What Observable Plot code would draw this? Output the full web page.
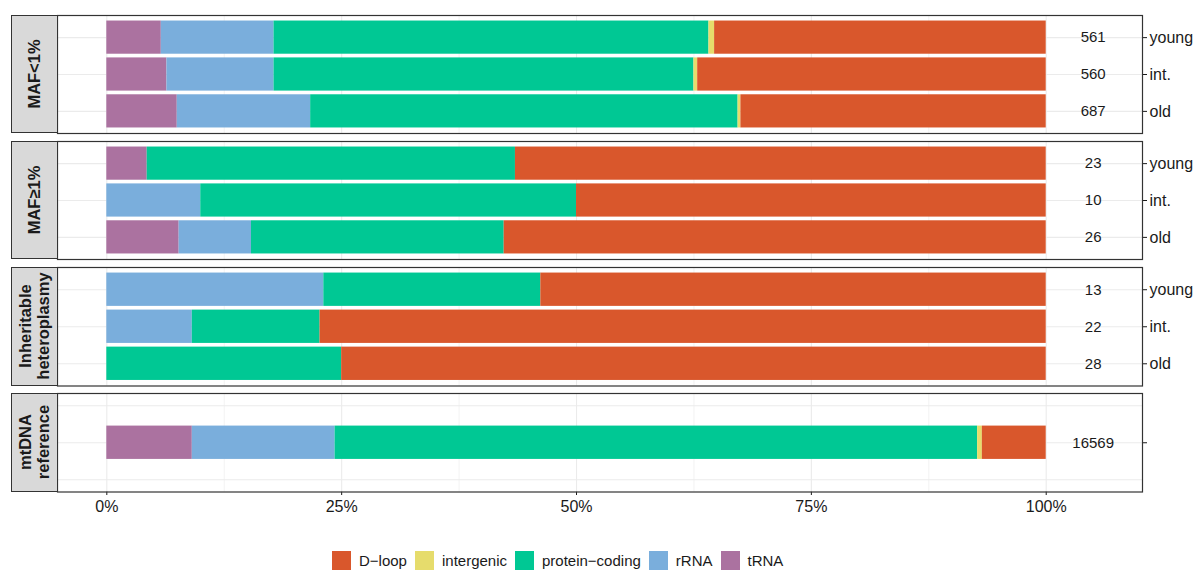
<!DOCTYPE html>
<html>
<head>
<meta charset="utf-8">
<script src="https://cdn.jsdelivr.net/npm/d3@7"></script>
<script src="https://cdn.jsdelivr.net/npm/@observablehq/plot@0.6"></script>
<style>
html, body { margin: 0; padding: 0; background: #fff; }
#chart { position: relative; width: 1196px; height: 572px; overflow: hidden; font-family: "Liberation Sans", Arial, Helvetica, sans-serif; background: #fff; }
.panel { position: absolute; left: 0; }
.strip { position: absolute; left: 10.5px; width: 47px; box-sizing: border-box; background: #d9d9d9; border: 1.2px solid #333; }
.strip span { position: absolute; left: 50%; top: 50%; transform: translate(-50%, -50%) rotate(-90deg); white-space: pre; text-align: center; font-weight: bold; font-size: 16.5px; line-height: 18px; color: #1a1a1a; }
#legend { position: absolute; left: 332px; top: 551px; }
#legend .lg-swatches { min-height: 0 !important; margin: 0 !important; font-family: "Liberation Sans", Arial, Helvetica, sans-serif !important; font-size: 15px !important; color: #1a1a1a !important; }
#legend .lg-swatch { margin-right: 8px !important; }
#legend .lg-swatch > svg { margin-right: 8px !important; }
</style>
</head>
<body>
<div id="chart"><div id="legend"></div></div>
<script>
// ---- data ----
const regions = ["D-loop", "intergenic", "protein-coding", "rRNA", "tRNA"];
const regionColors = ["#D9572C", "#E6DC6C", "#00C894", "#7AAEDC", "#AB72A0"];
const stackOrder = ["tRNA", "rRNA", "protein-coding", "intergenic", "D-loop"];

const ageGroups = ["young", "int.", "old"];

// shares in %, columns follow stackOrder (tRNA, rRNA, protein-coding, intergenic, D-loop)
const mafLowShares = [
  [5.8, 12.0, 46.3, 0.6, 35.3],
  [6.4, 11.4, 44.7, 0.4, 37.1],
  [7.5, 14.2, 45.5, 0.3, 32.5]
];
const mafLowCounts = [561, 560, 687];

const mafHighShares = [
  [4.3, 0, 39.2, 0, 56.5],
  [0, 10.0, 40.0, 0, 50.0],
  [7.7, 7.7, 26.9, 0, 57.7]
];
const mafHighCounts = [23, 10, 26];

const inheritShares = [
  [0, 23.1, 23.1, 0, 53.8],
  [0, 9.1, 13.6, 0, 77.3],
  [0, 0, 25.0, 0, 75.0]
];
const inheritCounts = [13, 22, 28];

const refShares = [[9.1, 15.2, 68.4, 0.5, 6.8]];
const refCounts = [16569];
const refRows = [""];

const facetLabels = ["MAF<1%", "MAF≥1%", "Inheritable\nheteroplasmy", "mtDNA\nreference"];

const majorTicks = [0, 0.25, 0.5, 0.75, 1];
const minorTicks = [0.125, 0.375, 0.625, 0.875];

// ---- layout ----
const xDomain = [-0.0525, 1.1025];
const countX = 1.05;
const panels = [
  {label: facetLabels[0], rowLabels: ageGroups, shares: mafLowShares, counts: mafLowCounts, barRows: [1, 2, 3], gridRows: [1, 2, 3], yDomain: [3.6, 0.4], top: 15, height: 118},
  {label: facetLabels[1], rowLabels: ageGroups, shares: mafHighShares, counts: mafHighCounts, barRows: [1, 2, 3], gridRows: [1, 2, 3], yDomain: [3.6, 0.4], top: 141, height: 118},
  {label: facetLabels[2], rowLabels: ageGroups, shares: inheritShares, counts: inheritCounts, barRows: [1, 2, 3], gridRows: [1, 2, 3], yDomain: [3.6, 0.4], top: 267, height: 118.5},
  {label: facetLabels[3], rowLabels: refRows, shares: refShares, counts: refCounts, barRows: [2], gridRows: [1, 2, 3], yDomain: [3.33, 0.67], top: 393, height: 98.5}
];

const chart = document.getElementById("chart");
const textColor = "#1a1a1a";

panels.forEach((p, pi) => {
  const isLast = pi === panels.length - 1;
  const data = [];
  p.shares.forEach((row, i) => row.forEach((v, k) => {
    data.push({row: p.barRows[i], region: stackOrder[k], share: v / 100});
  }));
  const mt = 1, mb = isLast ? 34 : 1;
  const svg = Plot.plot({
    width: 1196,
    height: p.height + mt + mb,
    marginLeft: 57, marginRight: 54, marginTop: mt, marginBottom: mb,
    style: {fontFamily: "Liberation Sans, Arial, Helvetica, sans-serif", fontSize: "16px", color: textColor, background: "transparent", overflow: "visible"},
    x: {domain: xDomain, axis: isLast ? "bottom" : null, ticks: majorTicks, tickFormat: d3.format(".0%"), tickSize: 3.5, tickPadding: 5, label: null},
    y: {domain: p.yDomain, axis: "right", ticks: p.barRows, tickFormat: d => p.rowLabels[p.barRows.indexOf(d)], tickSize: 4, tickPadding: 3, label: null},
    color: {domain: regions, range: regionColors},
    marks: [
      Plot.ruleX(minorTicks, {stroke: "#ebebeb", strokeWidth: 0.6}),
      Plot.ruleX(majorTicks, {stroke: "#ebebeb", strokeWidth: 1.1}),
      Plot.ruleY(p.gridRows, {stroke: "#ebebeb", strokeWidth: 1.1}),
      Plot.rectX(data, Plot.stackX({
        x: "share",
        y1: d => d.row - 0.45,
        y2: d => d.row + 0.45,
        fill: "region",
        order: stackOrder
      })),
      Plot.text(p.counts, {x: () => countX, y: (d, i) => p.barRows[i], text: d => String(d), fontSize: 15, fill: textColor}),
      Plot.frame({stroke: "#333", strokeWidth: 1.2})
    ]
  });
  svg.classList.add("panel");
  svg.style.top = (p.top - mt) + "px";
  chart.appendChild(svg);

  const strip = document.createElement("div");
  strip.className = "strip";
  strip.style.top = p.top + "px";
  strip.style.height = p.height + "px";
  const span = document.createElement("span");
  span.textContent = p.label;
  strip.appendChild(span);
  chart.appendChild(strip);
});

const legend = Plot.legend({
  color: {domain: regions, range: regionColors},
  legend: "swatches",
  swatchSize: 19,
  className: "lg",
  tickFormat: d => d.replace("-", "\u2212"),
  style: {fontFamily: "Liberation Sans, Arial, Helvetica, sans-serif", fontSize: "15px", color: textColor}
});
document.getElementById("legend").appendChild(legend);
</script>
</body>
</html>
